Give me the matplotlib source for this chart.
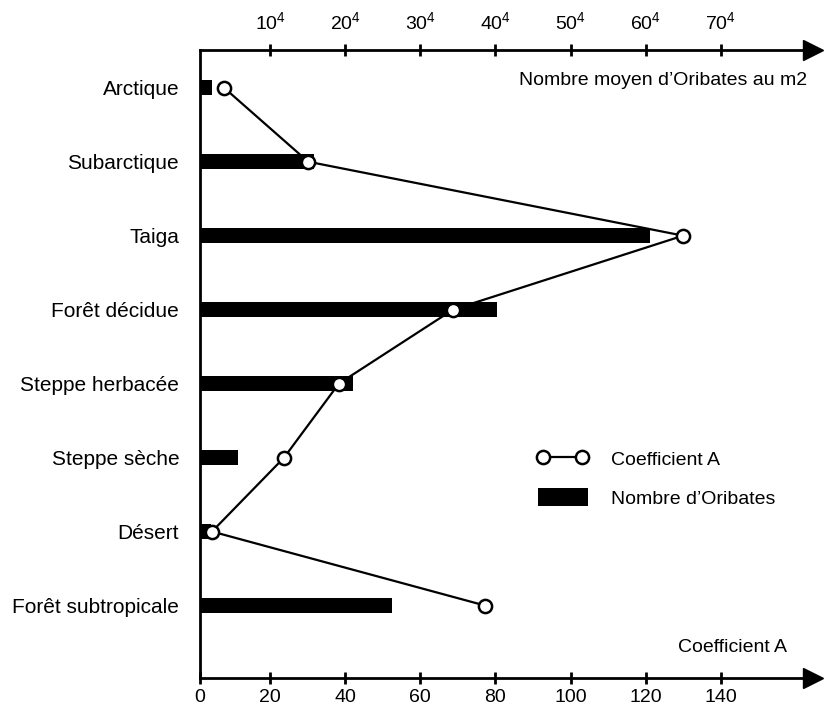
import matplotlib
matplotlib.use('Agg')
import matplotlib.pyplot as plt

plt.rcParams['font.family'] = ['Liberation Sans', 'DejaVu Sans']
plt.rcParams['mathtext.default'] = 'regular'

# Données
zones = ['Arctique', 'Subarctique', 'Taiga', 'Forêt décidue', 'Steppe herbacée',
         'Steppe sèche', 'Désert', 'Forêt subtropicale']
coef_a = [7.7, 30.1, 130, 68.7, 38.3, 23.7, 4.5, 77.2]  # Coefficient A
oribates = [2.2, 15.9, 60.6, 40.2, 21.0, 5.7, 2.1, 26.2]  # nombre moyen, unité des ticks du haut
coef_ticks = [20, 40, 60, 80, 100, 120, 140]
orib_ticks = [10, 20, 30, 40, 50, 60, 70]
orib_labels = ['%d$^4$' % t for t in orib_ticks]

fig = plt.figure(figsize=(8.36, 7.10), dpi=100)
ax = fig.add_axes([200 / 836, 1 - 678 / 710, 613 / 836, 628 / 710])
ax2 = ax.twiny()
ax.set_zorder(ax2.get_zorder() + 1)
ax.patch.set_visible(False)

x0, x1 = 1.3, 164.6
ax.set_xlim(x0, x1)
ax2.set_xlim(x0 / 2, x1 / 2)
ypos = list(range(len(zones)))
ax.set_ylim(7.98, -0.51)

# barres (nombre d'Oribates) sur l'axe du haut
ax2.barh(ypos, oribates, height=0.2, color='black', label='Nombre d’Oribates')
# courbe du coefficient A sur l'axe du bas
ax.plot(coef_a, ypos, color='black', lw=1.6, marker='o', ms=9.5, mfc='white',
        mec='black', mew=1.8, label='Coefficient A', clip_on=False)

# axes
for s in ['top', 'right']:
    ax.spines[s].set_visible(False)
for s in ['bottom', 'right', 'left']:
    ax2.spines[s].set_visible(False)
for a in (ax, ax2):
    for s in a.spines.values():
        s.set_linewidth(2)

ax.set_xticks([x0] + coef_ticks)
ax.set_xticklabels(['0'] + [str(t) for t in coef_ticks])
ax.tick_params(axis='x', direction='inout', length=8, width=2, labelsize=14, pad=4)
ax.set_yticks(ypos)
ax.set_yticklabels(zones)
ax.tick_params(axis='y', length=0, labelsize=15, pad=15)

ax2.set_xticks(orib_ticks)
ax2.set_xticklabels(orib_labels)
ax2.tick_params(axis='x', direction='inout', length=8, width=2, labelsize=14, pad=8)

# flèches au bout des axes
ax.plot(1, 0, '>', color='black', ms=14, transform=ax.transAxes, clip_on=False)
ax.plot(1, 1, '>', color='black', ms=14, transform=ax.transAxes, clip_on=False)

ax.text(0.99, 0.952, 'Nombre moyen d’Oribates au m2', transform=ax.transAxes,
        ha='right', va='center', fontsize=14)
ax.text(0.958, 0.048, 'Coefficient A', transform=ax.transAxes,
        ha='right', va='center', fontsize=14)

h1, l1 = ax.get_legend_handles_labels()
h2, l2 = ax2.get_legend_handles_labels()
ax.legend(h1 + h2, l1 + l2, loc='upper left', bbox_to_anchor=(520 / 836, 1 - 432 / 710),
          bbox_transform=fig.transFigure, frameon=False, fontsize=14, numpoints=2,
          handlelength=2.6, handleheight=1.0, handletextpad=1.2, labelspacing=1.0)

plt.savefig('out.png', dpi=100)
